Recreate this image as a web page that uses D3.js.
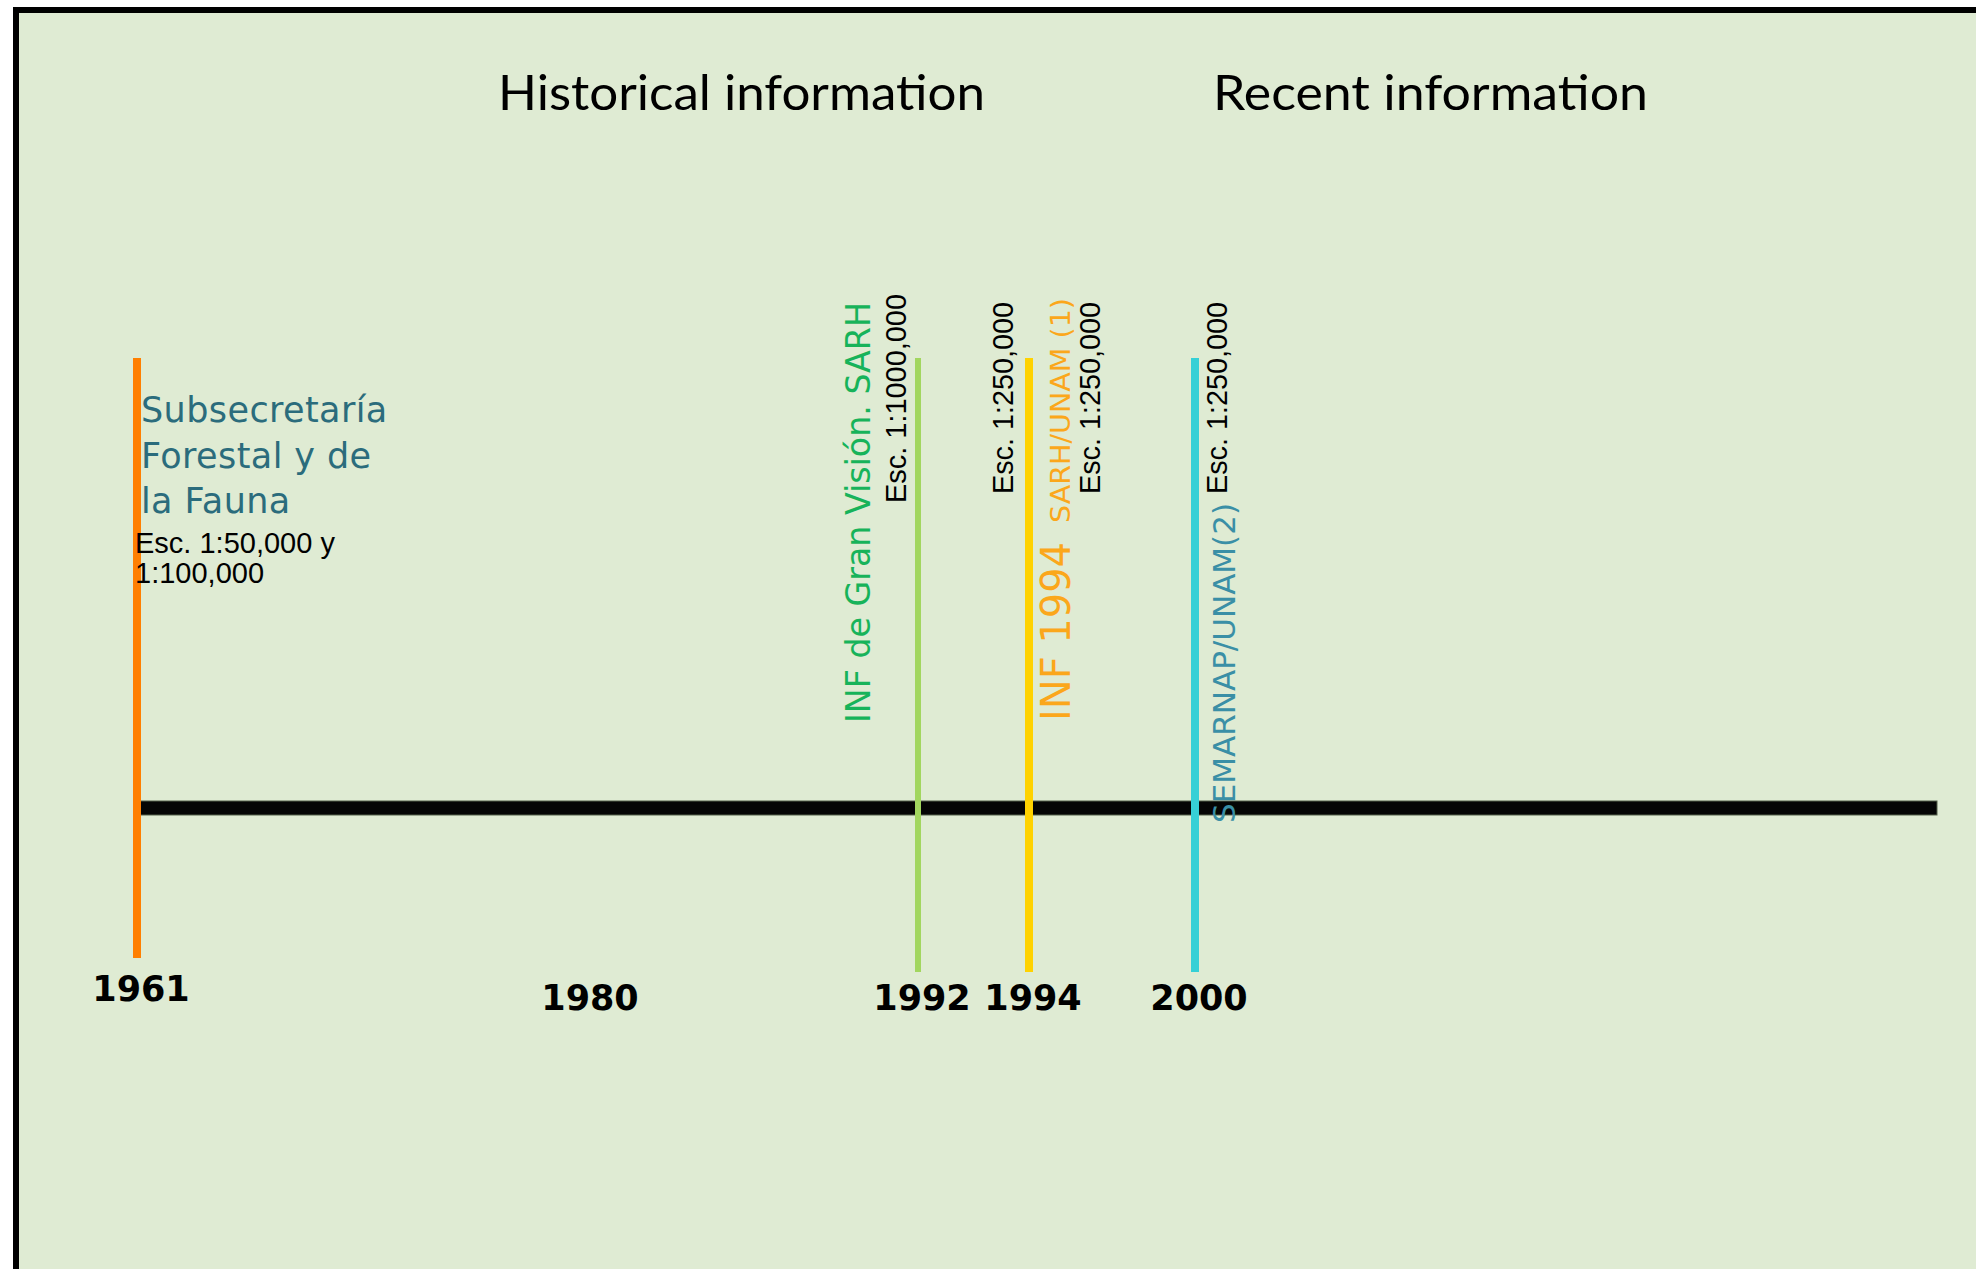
<!DOCTYPE html>
<html>
<head>
<meta charset="utf-8">
<script src="https://cdn.jsdelivr.net/npm/d3@7"></script>
<style>
  body { margin: 0; background: #fff; }
  svg { display: block; }
</style>
</head>
<body>
<div class="timeline"></div>
<script>
// timeline data
const eventYears = [1961, 1992, 1994, 2000];
const eventColors = ["#ff7f00", "#a2d65f", "#ffd200", "#36d0d6"];
const tickYears = [1961, 1980, 1992, 1994, 2000];
const periodTitles = ["Historical information", "Recent information"];

const source1961 = ["Subsecretaría", "Forestal y de", "la Fauna"];
const scale1961 = ["Esc. 1:50,000 y", "1:100,000"];
const source1992 = "INF de Gran Visión. SARH";
const scale1992 = "Esc. 1:1000,000";
const source1994 = "INF 1994";
const agency1994 = "SARH/UNAM (1)";
const scale1994 = "Esc. 1:250,000";
const source2000 = "SEMARNAP/UNAM(2)";
const scale2000 = "Esc. 1:250,000";

const width = 1976, height = 1269;
const bg = "#dfebd3";

const svg = d3.select(".timeline").append("svg")
  .attr("width", width)
  .attr("height", height)
  .attr("viewBox", [0, 0, width, height]);

// background panel with the thick frame (runs off right / bottom)
svg.append("rect")
  .attr("x", 16).attr("y", 10)
  .attr("width", width + 40).attr("height", height + 40)
  .attr("fill", bg)
  .attr("stroke", "#000")
  .attr("stroke-width", 6);

// hand drawn timeline, so the year scale is piecewise
const x = d3.scaleLinear()
  .domain(tickYears)
  .range([137, 586, 918, 1029, 1195]);
const axisEnd = 1937;
const axisY = 808;

// period titles
svg.selectAll(".period")
  .data(periodTitles)
  .join("text")
  .attr("class", "period")
  .attr("x", (d, i) => [498, 1213][i])
  .attr("y", 110)
  .attr("textLength", (d, i) => [487, 435][i])
  .attr("lengthAdjust", "spacingAndGlyphs")
  .style("font-family", "Lato, 'Open Sans', sans-serif")
  .style("font-size", "48px")
  .attr("fill", "#000")
  .text(d => d);

// main axis bar
svg.append("rect")
  .attr("x", x(1961))
  .attr("y", axisY - 7)
  .attr("width", axisEnd - x(1961))
  .attr("height", 14)
  .attr("fill", "#050505")
  .attr("stroke", "#55604a")
  .attr("stroke-width", 1);

// event lines
svg.selectAll(".event")
  .data(eventYears)
  .join("line")
  .attr("class", "event")
  .attr("x1", d => x(d))
  .attr("x2", d => x(d))
  .attr("y1", 358)
  .attr("y2", d => d === 1961 ? 958 : 972)
  .style("stroke", (d, i) => eventColors[i])
  .style("stroke-width", (d, i) => i === 1 ? 6 : 8);

// year labels
svg.selectAll(".year")
  .data(tickYears)
  .join("text")
  .attr("class", "year")
  .attr("x", d => x(d) + 4)
  .attr("y", d => d === 1961 ? 1001 : 1010)
  .attr("text-anchor", "middle")
  .style("font-family", "'DejaVu Sans', sans-serif")
  .style("font-weight", "bold")
  .style("font-size", "35px")
  .attr("fill", "#000")
  .text(d => d);

// 1961 block of text
svg.selectAll(".src1961")
  .data(source1961)
  .join("text")
  .attr("class", "src1961")
  .attr("x", x(1961) + 4)
  .attr("y", (d, i) => 422 + i * 45.5)
  .style("font-family", "'DejaVu Sans', sans-serif")
  .style("font-size", "35px")
  .style("letter-spacing", "0.4px")
  .attr("fill", "#2b6c7c")
  .text(d => d);

svg.selectAll(".esc1961")
  .data(scale1961)
  .join("text")
  .attr("class", "esc1961")
  .attr("x", x(1961) - 2)
  .attr("y", (d, i) => 553 + i * 30)
  .style("font-family", "'Liberation Sans', Arial, sans-serif")
  .style("font-size", "29px")
  .attr("fill", "#000")
  .text(d => d);

// rotated labels: [year, text, baseline offset, bottom y, size, color, family, length]
const vert = [
  [1992, source1992, -48, 723, 34, "#17b35a", "sans", 421],
  [1992, scale1992, -12, 503, 29, "#000", "arial", 209],
  [1994, scale1994, -16, 494, 29, "#000", "arial", 192],
  [1994, source1994, 41, 721, 40, "#fba71b", "sans", 179],
  [1994, agency1994, 41, 523, 27, "#fba71b", "sans", 225],
  [1994, scale1994, 71, 494, 29, "#000", "arial", 192],
  [2000, source2000, 40, 823, 31, "#3a8fa6", "sans", 320],
  [2000, scale2000, 32, 494, 29, "#000", "arial", 192]
];

svg.selectAll(".vlabel")
  .data(vert)
  .join("text")
  .attr("class", "vlabel")
  .attr("transform", d => `translate(${x(d[0]) + d[2]},${d[3]}) rotate(-90)`)
  .attr("textLength", d => d[7])
  .attr("lengthAdjust", "spacingAndGlyphs")
  .style("font-family", d => d[6] === "arial"
    ? "'Liberation Sans', Arial, sans-serif"
    : "'DejaVu Sans', sans-serif")
  .style("font-size", d => d[4] + "px")
  .attr("fill", d => d[5])
  .text(d => d[1]);
</script>
</body>
</html>
